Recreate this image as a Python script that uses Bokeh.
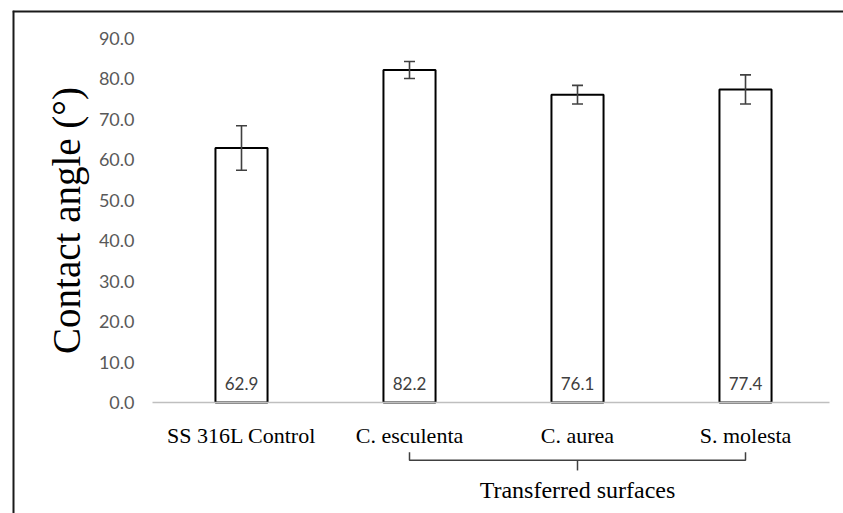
from bokeh.plotting import figure
from bokeh.models import Range1d, FixedTicker, NumeralTickFormatter, ColumnDataSource, Whisker, TeeHead
from bokeh.embed import file_html
from bokeh.resources import INLINE
from bokeh.core.properties import value

# ---- data ----
categories = ["SS 316L Control", "C. esculenta", "C. aurea", "S. molesta"]
contact_angle = [62.9, 82.2, 76.1, 77.4]
error = [5.5, 2.1, 2.3, 3.6]
y_ticks = [0, 10, 20, 30, 40, 50, 60, 70, 80, 90]
group_label = "Transferred surfaces"
group_members = ["C. esculenta", "C. aurea", "S. molesta"]
y_title = "Contact angle (°)"

# ---- layout constants ----
X_START, X_END = -1.3631, 3.5833
Y_START, Y_END = -27.44, 96.91
SERIF = "Liberation Serif"
SANS = "Lato"

x = list(range(len(categories)))
src = ColumnDataSource(dict(
    x=x,
    top=contact_angle,
    upper=[v + e for v, e in zip(contact_angle, error)],
    lower=[v - e for v, e in zip(contact_angle, error)],
    label=[f"{v:.1f}" for v in contact_angle],
    zero=[0] * len(categories),
))

p = figure(width=843, height=513, output_backend="svg", toolbar_location=None,
           x_range=Range1d(X_START, X_END), y_range=Range1d(Y_START, Y_END),
           min_border_left=12, min_border_top=10, min_border_right=0, min_border_bottom=0)
p.outline_line_color = None
p.xgrid.grid_line_color = None
p.ygrid.grid_line_color = None
p.background_fill_color = "white"
p.border_fill_color = "white"

# x axis at y = 0
xa = p.xaxis[0]
xa.fixed_location = 0
xa.bounds = (-0.53, 3.5)
xa.ticker = FixedTicker(ticks=x)
xa.major_label_overrides = {i: c for i, c in zip(x, categories)}
xa.axis_line_color = "#bfbfbf"
xa.axis_line_width = 1.5
xa.major_tick_line_color = None
xa.minor_tick_line_color = None
xa.major_tick_out = 0
xa.major_tick_in = 0
xa.major_label_standoff = 20
xa.major_label_text_font = SERIF
xa.major_label_text_font_size = "22px"
xa.major_label_text_color = "black"

# y axis
ya = p.yaxis[0]
ya.fixed_location = -0.53
ya.bounds = (0, 90)
ya.ticker = FixedTicker(ticks=y_ticks)
ya.formatter = NumeralTickFormatter(format="0.0")
ya.axis_line_color = None
ya.major_tick_line_color = None
ya.minor_tick_line_color = None
ya.major_tick_out = 0
ya.major_tick_in = 0
ya.major_label_standoff = 18
ya.major_label_text_font = SANS
ya.major_label_text_font_size = "18px"
ya.major_label_text_color = "#595959"
ya.axis_label = y_title
ya.axis_label_text_font = SERIF
ya.axis_label_text_font_size = "39px"
ya.axis_label_text_font_style = "normal"
ya.axis_label_text_color = "black"
ya.axis_label_standoff = 8

# bars
p.vbar(x="x", top="top", bottom=0, width=0.31, source=src,
       fill_color="white", line_color="black", line_width=2)

# error bars
head_kw = dict(size=11, line_color="#404040", line_width=1.6)
p.add_layout(Whisker(base="x", upper="upper", lower="lower", source=src, level="overlay",
                     line_color="#404040", line_width=1.6,
                     upper_head=TeeHead(**head_kw), lower_head=TeeHead(**head_kw)))

# value labels inside bars
p.text(x="x", y="zero", text="label", source=src, y_offset=-19,
       text_font=value(SANS), text_font_size="17px", text_color="#404040",
       text_align="center", text_baseline="middle")

# group bracket
gi = [categories.index(m) for m in group_members]
g0, g1 = min(gi), max(gi)
gm = (g0 + g1) / 2
BR_Y, BR_END, BR_MID = -14.3, -12.3, -16.8
p.line(x=[g0, g0, g1, g1], y=[BR_END, BR_Y, BR_Y, BR_END], line_color="#404040", line_width=1.5)
p.line(x=[gm, gm], y=[BR_Y, BR_MID], line_color="#404040", line_width=1.5)
p.text(x=[gm], y=[-21.6], text=[group_label], text_font=value(SERIF), text_font_size="24px",
       text_color="black", text_align="center", text_baseline="middle")

# outer frame (left and top edges)
p.segment(x0=[X_START, X_START], y0=[Y_START, Y_END], x1=[X_START, X_END], y1=[Y_END, Y_END],
          line_color="#1a1a1a", line_width=4)

open("out.html", "w").write(file_html(p, INLINE))
